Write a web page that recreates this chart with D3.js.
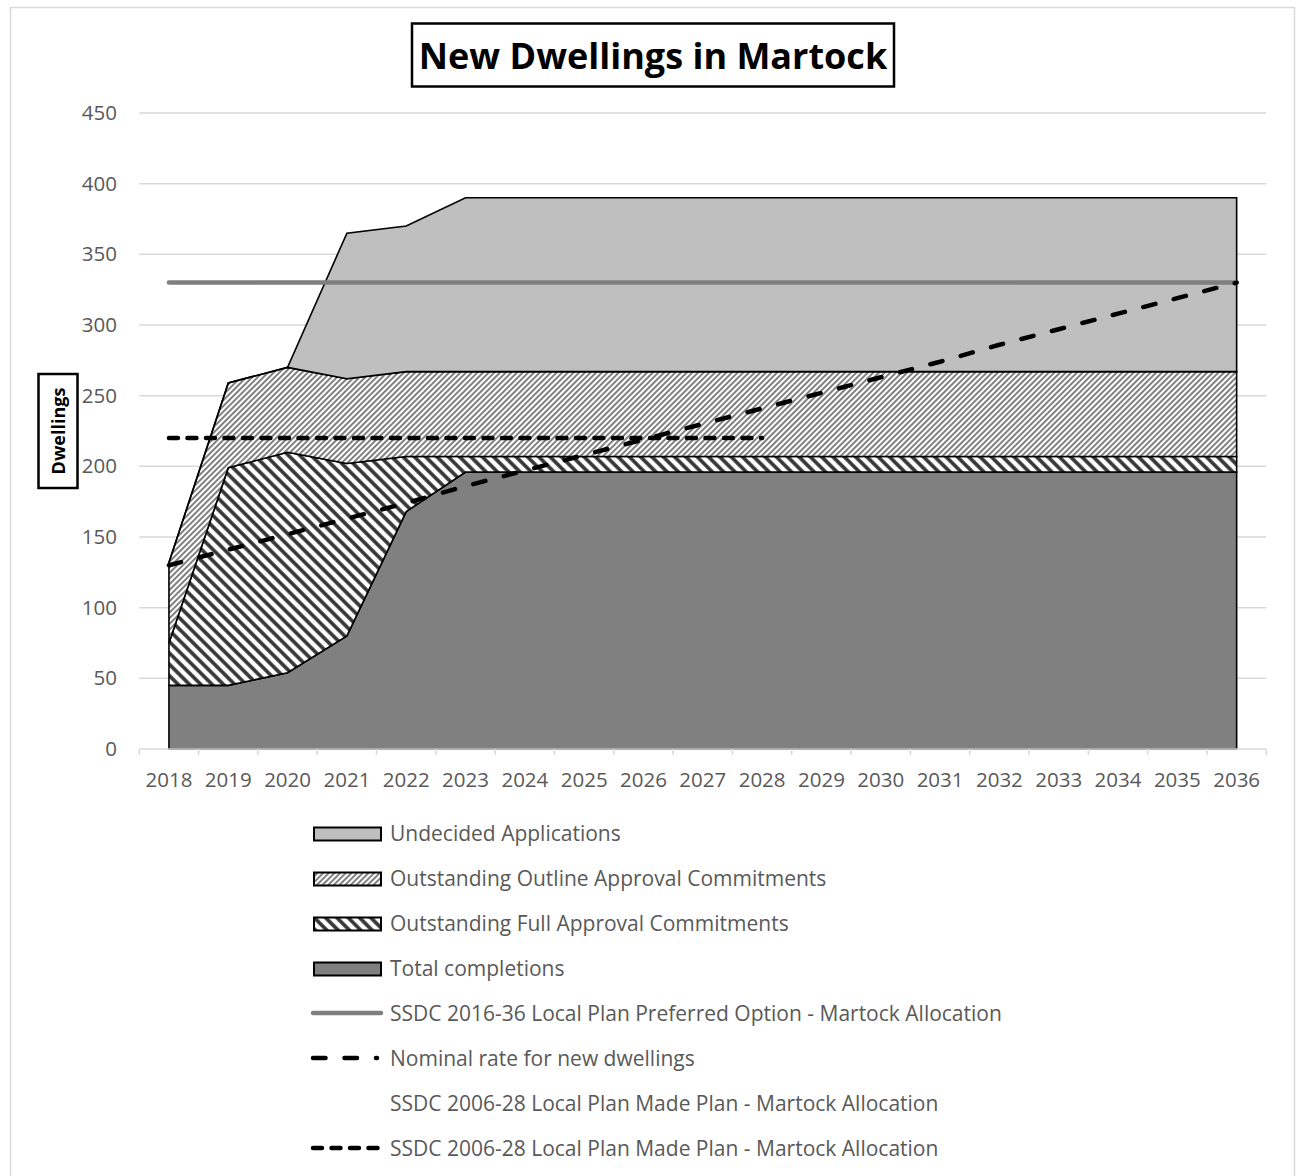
<!DOCTYPE html>
<html>
<head>
<meta charset="utf-8">
<script src="https://cdn.jsdelivr.net/npm/d3@7"></script>
<style>
  html, body { margin: 0; padding: 0; background: #fff; }
  svg { display: block; }
  text { font-family: "Open Sans", "DejaVu Sans", sans-serif; }
</style>
</head>
<body>
<svg id="chart" width="1300" height="1176"></svg>
<script>
// ---------------- DATA ----------------
const years = ["2018","2019","2020","2021","2022","2023","2024","2025","2026","2027","2028","2029","2030","2031","2032","2033","2034","2035","2036"];
const totalCompletions = [45,45,54,80,168,196,196,196,196,196,196,196,196,196,196,196,196,196,196];
const fullApproval     = [30,154,156,122,39,11,11,11,11,11,11,11,11,11,11,11,11,11,11];
const outlineApproval  = [57,60,60,60,60,60,60,60,60,60,60,60,60,60,60,60,60,60,60];
const undecidedApps    = [0,0,0,103,103,123,123,123,123,123,123,123,123,123,123,123,123,123,123];
const preferredOption  = [330,330,330,330,330,330,330,330,330,330,330,330,330,330,330,330,330,330,330];
const nominalRate      = [130,141,152,163,174,186,197,208,219,230,241,252,263,274,286,297,308,319,330];
const madePlan         = [220,220,220,220,220,220,220,220,220,220,220,null,null,null,null,null,null,null,null];
const yTicks = [0,50,100,150,200,250,300,350,400,450];

const areaKeys   = ["completions","full","outline","undecided"];
const areaLabels = {
  undecided: "Undecided Applications",
  outline: "Outstanding Outline Approval Commitments",
  full: "Outstanding Full Approval Commitments",
  completions: "Total completions"
};
const titleText = "New Dwellings in Martock";
const yTitle = "Dwellings";

// table built from arrays
const table = years.map((y, i) => ({
  year: y,
  completions: totalCompletions[i],
  full: fullApproval[i],
  outline: outlineApproval[i],
  undecided: undecidedApps[i]
}));

// ---------------- LAYOUT ----------------
const svg = d3.select("#chart");
const plot = { left: 139.3, right: 1266.3, top: 113, bottom: 749 };

const x = d3.scaleBand().domain(years).range([plot.left, plot.right]).padding(0);
const xc = d => x(d) + x.bandwidth() / 2;
const y = d3.scaleLinear().domain([0, 450]).range([plot.bottom, plot.top]);

// outer border
svg.append("rect").attr("x", 10.5).attr("y", 7.5).attr("width", 1284).attr("height", 1200)
  .attr("fill", "none").attr("stroke", "#d9d9d9").attr("stroke-width", 1.5);

// patterns
const defs = svg.append("defs");
const pOut = defs.append("pattern").attr("id", "patOutline").attr("patternUnits", "userSpaceOnUse")
  .attr("width", 4).attr("height", 4).attr("patternTransform", "rotate(45)");
pOut.append("rect").attr("width", 4).attr("height", 4).attr("fill", "#fff");
pOut.append("line").attr("x1", 1).attr("y1", 0).attr("x2", 1).attr("y2", 4)
  .attr("stroke", "#4a4a4a").attr("stroke-width", 1.4);

const pFull = defs.append("pattern").attr("id", "patFull").attr("patternUnits", "userSpaceOnUse")
  .attr("width", 8).attr("height", 8).attr("patternTransform", "rotate(-45)");
pFull.append("rect").attr("width", 8).attr("height", 8).attr("fill", "#fff");
pFull.append("line").attr("x1", 2).attr("y1", 0).attr("x2", 2).attr("y2", 8)
  .attr("stroke", "#333", ).attr("stroke-width", 3.6);

const fills = {
  completions: "#808080",
  full: "url(#patFull)",
  outline: "url(#patOutline)",
  undecided: "#bfbfbf"
};

// gridlines
svg.append("g").selectAll("line").data(yTicks.filter(t => t > 0)).join("line")
  .attr("x1", plot.left).attr("x2", plot.right)
  .attr("y1", d => y(d)).attr("y2", d => y(d))
  .attr("stroke", "#d9d9d9").attr("stroke-width", 1.5);

// y axis labels
const yAxis = d3.axisLeft(y).tickValues(yTicks).tickSize(0).tickPadding(0);
const gy = svg.append("g").attr("transform", "translate(117,0)").call(yAxis);
gy.select(".domain").remove();
gy.selectAll("text").attr("font-size", 20.5).attr("fill", "#595959")
  .style("font-family", "'Open Sans', sans-serif");

// stacked areas
const stack = d3.stack().keys(areaKeys);
const series = stack(table);
const area = d3.area()
  .x(d => xc(d.data.year))
  .y0(d => y(d[0]))
  .y1(d => y(d[1]));
svg.append("g").selectAll("path").data(series).join("path")
  .attr("d", area)
  .attr("fill", s => fills[s.key])
  .attr("stroke", "#000").attr("stroke-width", 1.6).attr("stroke-linejoin", "miter");

// x axis
svg.append("line").attr("x1", plot.left).attr("x2", plot.right)
  .attr("y1", plot.bottom).attr("y2", plot.bottom)
  .attr("stroke", "#d9d9d9").attr("stroke-width", 1.5);
const bounds = years.map(d => x(d)).concat([x(years[years.length - 1]) + x.bandwidth()]);
svg.append("g").selectAll("line").data(bounds).join("line")
  .attr("x1", d => d).attr("x2", d => d)
  .attr("y1", plot.bottom).attr("y2", plot.bottom + 6)
  .attr("stroke", "#d9d9d9").attr("stroke-width", 1.5);
const xAxis = d3.axisBottom(x).tickSize(0).tickPadding(0);
const gx = svg.append("g").attr("transform", `translate(0,${plot.bottom + 23})`).call(xAxis);
gx.select(".domain").remove();
gx.selectAll("text").attr("font-size", 20.5).attr("fill", "#595959")
  .style("font-family", "'Open Sans', sans-serif");

// lines
const lineGen = d3.line().defined(d => d.v != null).x(d => xc(d.year)).y(d => y(d.v));
const mk = arr => years.map((yr, i) => ({ year: yr, v: arr[i] }));

svg.append("path").datum(mk(preferredOption)).attr("d", lineGen)
  .attr("fill", "none").attr("stroke", "#7f7f7f").attr("stroke-width", 4.5).attr("stroke-linecap", "round");
svg.append("path").datum(mk(nominalRate)).attr("d", lineGen)
  .attr("fill", "none").attr("stroke", "#000").attr("stroke-width", 4.5)
  .attr("stroke-linecap", "round").attr("stroke-dasharray", "12.5,19");
svg.append("path").datum(mk(madePlan)).attr("d", lineGen)
  .attr("fill", "none").attr("stroke", "#000").attr("stroke-width", 4.5)
  .attr("stroke-linecap", "round").attr("stroke-dasharray", "9,9.5");

// title
const tg = svg.append("g");
const tt = tg.append("text").attr("x", 653).attr("y", 55).attr("text-anchor", "middle")
  .attr("dominant-baseline", "central").attr("font-size", 36).attr("font-weight", "bold")
  .attr("fill", "#000").text(titleText);
tg.insert("rect", "text").attr("x", 412).attr("y", 23.5).attr("width", 482).attr("height", 63)
  .attr("fill", "#fff").attr("stroke", "#000").attr("stroke-width", 2.5);

// y title
const yg = svg.append("g").attr("transform", "translate(58,431) rotate(-90)");
yg.append("rect").attr("x", -57).attr("y", -19.5).attr("width", 114).attr("height", 39)
  .attr("fill", "#fff").attr("stroke", "#000").attr("stroke-width", 2.5);
yg.append("text").attr("x", 0).attr("y", 0).attr("text-anchor", "middle")
  .attr("dominant-baseline", "central").attr("font-size", 18).attr("font-weight", "bold")
  .attr("fill", "#000").text(yTitle);

// legend
const legendItems = [
  { label: areaLabels.undecided, type: "box", fill: fills.undecided },
  { label: areaLabels.outline, type: "box", fill: fills.outline },
  { label: areaLabels.full, type: "box", fill: fills.full },
  { label: areaLabels.completions, type: "box", fill: fills.completions },
  { label: "SSDC 2016-36 Local Plan Preferred Option - Martock Allocation", type: "line", stroke: "#7f7f7f", dash: null, end: 381 },
  { label: "Nominal rate for new dwellings", type: "line", stroke: "#000", dash: "12.5,19", end: 377 },
  { label: "SSDC 2006-28 Local Plan Made Plan - Martock Allocation", type: "none" },
  { label: "SSDC 2006-28 Local Plan Made Plan - Martock Allocation", type: "line", stroke: "#000", dash: "9,9.5", end: 381 }
];
const lg = svg.append("g").selectAll("g").data(legendItems).join("g")
  .attr("transform", (d, i) => `translate(0,${833 + i * 45})`);
lg.filter(d => d.type === "box").append("rect")
  .attr("x", 314).attr("y", -5.5).attr("width", 67).attr("height", 13)
  .attr("fill", d => d.fill).attr("stroke", "#000").attr("stroke-width", 2);
lg.filter(d => d.type === "line").append("line")
  .attr("x1", 313).attr("x2", d => d.end).attr("y1", 0).attr("y2", 0)
  .attr("stroke", d => d.stroke).attr("stroke-width", 4.5)
  .attr("stroke-linecap", "round")
  .attr("stroke-dasharray", d => d.dash);
lg.append("text").attr("x", 390).attr("y", 0).attr("dominant-baseline", "central")
  .attr("font-size", 21).attr("fill", "#595959").text(d => d.label);
</script>
</body>
</html>
